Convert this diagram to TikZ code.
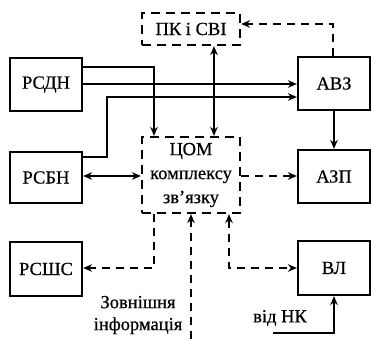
\documentclass[tikz,border=0pt]{standalone}
\usepackage{fontspec}
\setmainfont{Liberation Serif}[FakeBold=0.6]
\usetikzlibrary{arrows.meta}
\begin{document}
\begin{tikzpicture}[x=1pt,y=-1pt,
  box/.style={draw,line width=2.2pt,minimum width=72pt,minimum height=53pt,inner sep=0pt,
    font=\fontsize{18.5}{24}\selectfont,align=center},
  dbox/.style={box,dash pattern=on 9pt off 6pt},
  ln/.style={line width=2pt},
  dl/.style={ln,dash pattern=on 8pt off 6pt},
  >={Stealth[length=9pt,width=7.5pt]},
  lbl/.style={font=\fontsize{18.5}{22}\selectfont,inner sep=0pt,align=center}]
\useasboundingbox (0,0) rectangle (372,339);
% boxes
\node[box] (rsdn) at (46,84.5) {РСДН};
\node[box] (avz) at (334,83.5) {АВЗ};
\node[dbox,minimum width=98pt,minimum height=32pt] (pk) at (191,29) {ПК і СВІ};
\node[dbox,minimum width=98pt,minimum height=76pt] (com) at (191,175) {ЦОМ\\комплексу\\зв’язку};
\node[box,minimum height=51pt] (rsbn) at (46,177.5) {РСБН};
\node[box] (azp) at (334,176.5) {АЗП};
\node[box,minimum height=54pt] (rssc) at (46,269) {РСШС};
\node[box,minimum height=54pt] (vl) at (334,268) {ВЛ};
% labels
\node[lbl] (ext) at (138,315) {Зовнішня\\інформація};
\node[lbl] (nk) at (280,318) {від НК};
\coordinate (extsrc) at (191,339);
\coordinate (nksrc) at (273,333);
% solid connectors
\draw[ln,->] (rsdn.east |- 0,67) -| (154,0 |- com.north);
\draw[ln,->] (rsdn.east |- 0,84) -- (avz.west |- 0,84);
\draw[ln,->] (rsbn.east |- 0,157) -- (107,157) -- (107,97) -- (avz.west |- 0,97);
\draw[ln,<->] (214,0 |- pk.south) -- (214,0 |- com.north);
\draw[ln,->] (avz.south) -- (azp.north);
\draw[ln,<->] (rsbn.east |- 0,176) -- (com.west |- 0,176);
\draw[ln,->] (nksrc) -| (vl.south);
% dashed connectors
\draw[dl,->] (333,0 |- avz.north) |- (pk.east |- 0,24);
\draw[dl,->] (com.east |- 0,176) -- (azp.west |- 0,176);
\draw[dl,->] (154,0 |- com.south) |- (rssc.east |- 0,268);
\draw[dl,<->] (229,0 |- com.south) |- (vl.west |- 0,268);
\draw[dl,->] (extsrc) -- (191,0 |- com.south);
\end{tikzpicture}
\end{document}
